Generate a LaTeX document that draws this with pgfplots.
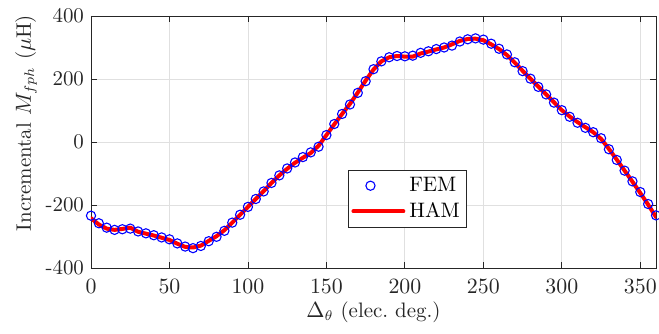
\documentclass[border=0pt]{standalone}
\usepackage{pgfplots}
\pgfplotsset{compat=1.18}

\definecolor{axgray}{rgb}{0.15,0.15,0.15}
\definecolor{gridgray}{rgb}{0.88,0.88,0.88}

\pgfplotstableread{
x y
0 -234
5 -258
10 -272
15 -279
20 -277
25 -275
30 -284
35 -290
40 -296
45 -303
50 -309
55 -322
60 -332
65 -337
70 -330
75 -315
80 -301
85 -282
90 -256
95 -231
100 -206
105 -181
110 -157
115 -130
120 -106
125 -84
130 -65
135 -48
140 -33
145 -15
150 22
155 57
160 89
165 119
170 156
175 193
180 231
185 256
190 269
195 273
200 272
205 274
210 283
215 288
220 295
225 300
230 306
235 319
240 326
245 329
250 325
255 312
260 296
265 278
270 253
275 225
280 201
285 175
290 151
295 125
300 101
305 80
310 61
315 45
320 31
325 12
330 -23
335 -57
340 -91
345 -125
350 -159
355 -197
360 -233
}\femdata

\pgfplotstableread{
x y
0 -242
5 -262
10 -275
15 -279
20 -276
25 -272
30 -285
35 -291
40 -297
45 -304
50 -311
55 -323
60 -333
65 -335
70 -329
75 -314
80 -299
85 -280
90 -256
95 -231
100 -206
105 -181
110 -156
115 -130
120 -106
125 -85
130 -66
135 -50
140 -35
145 -12
150 22
155 56
160 89
165 121
170 157
175 195
180 230
185 256
190 269
195 273
200 271
205 271
210 281
215 287
220 294
225 300
230 310
235 321
240 327
245 328
250 323
255 310
260 295
265 276
270 252
275 226
280 201
285 176
290 151
295 126
300 101
305 81
310 63
315 47
320 31
325 10
330 -22
335 -56
340 -91
345 -126
350 -162
355 -199
360 -238
}\hamdata

\pgfplotsset{hamlegend/.style={legend image code/.code={\draw[##1] (0cm,0cm) -- (0.88cm,0cm);}}}

\begin{document}
\begin{tikzpicture}
\begin{axis}[
  width=282.5bp, height=126bp,
  scale only axis,
  xmin=0, xmax=360, ymin=-400, ymax=400,
  xtick={0,50,...,350},
  ytick={-400,-200,0,200,400},
  yticklabels={\mbox{-}400,\mbox{-}200,0,200,400},
  tick align=inside,
  major tick length=3bp,
  axis line style={axgray, line width=0.4pt},
  tick style={axgray, line width=0.4pt},
  grid=major,
  major grid style={gridgray, line width=0.4pt},
  tick label style={font=\fontsize{10.5}{12}\selectfont, text=axgray},
  xticklabel style={yshift=-2bp},
  xlabel={$\Delta_\theta$ (elec.\ deg.)},
  ylabel={Incremental $M_{fph}$ ($\mu$H)},
  label style={font=\fontsize{10.5}{12}\selectfont, text=axgray},
  xlabel style={yshift=2.5bp},
  ylabel style={yshift=-2.5bp, xshift=9.5bp},
  legend style={at={(0.455,0.39)}, anchor=north west,
    draw=axgray, line width=0.4pt, font=\fontsize{10.5}{12}\selectfont,
    inner sep=1.5pt, row sep=0pt},
  legend cell align=left,
]
\addplot[only marks, mark=o, mark size=2.3bp, blue, line width=0.55pt] table[x=x, y=y] {\femdata};
\addlegendentry{FEM}
\addplot[red, line width=2pt, line join=round, line cap=round, hamlegend] table[x=x, y=y] {\hamdata};
\addlegendentry{HAM}
\end{axis}
\pgfresetboundingbox
\path ([shift={(-45.5bp,-33bp)}]current axis.south west) rectangle ([shift={(1.5bp,8bp)}]current axis.north east);
\end{tikzpicture}
\end{document}
